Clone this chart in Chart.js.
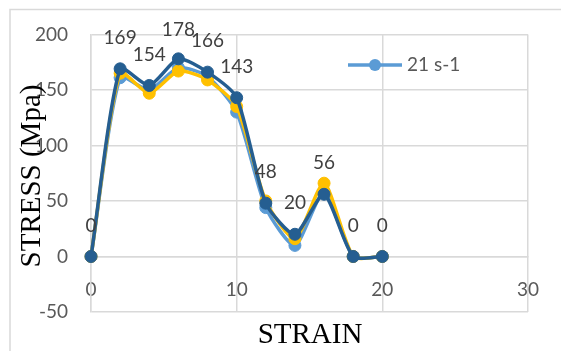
<!DOCTYPE html>
<html>
<head>
<meta charset="utf-8">
<script src="https://cdn.jsdelivr.net/npm/chart.js@4.4.1/dist/chart.umd.min.js"></script>
<style>
  html, body { margin: 0; padding: 0; background: #fff; }
  #wrap { width: 561px; height: 351px; }
</style>
</head>
<body>
<div id="wrap"><canvas id="stressChart" width="561" height="351"></canvas></div>
<script>
// strain steps (x) and stress readings (y) for each run
const strain = [0, 2, 4, 6, 8, 10, 12, 14, 16, 18, 20];
const stressLight = [0, 161, 150, 170, 162, 130, 44, 10, 58, 0, 0];
const stressYellow = [0, 165, 147, 167, 159, 135, 50, 16, 66, 0, 0];
const stressDark = [0, 169, 154, 178, 166, 143, 48, 20, 56, 0, 0];

const xTicks = [0, 10, 20, 30];
const yTicks = [-50, 0, 50, 100, 150, 200];
const legendLabel = "21 s-1";

const LIGHT = "#5B9BD5";
const YELLOW = "#FFC000";
const DARK = "#255E91";
const GRID = "#D9D9D9";
const TICK_FONT = "Lato";

function points(ys) {
    return strain.map((x, i) => ({ x: x, y: ys[i] }));
}

function lineSet(label, ys, color, order) {
    return {
        label: label,
        data: points(ys),
        borderColor: color,
        backgroundColor: color,
        borderWidth: 3.5,
        pointRadius: 6,
        pointBorderWidth: 1,
        pointHoverRadius: 6,
        tension: 0.22,
        clip: false,
        order: order
    };
}

// frame, axis titles, value labels and legend
const extras = {
    id: "extras",
    beforeDraw(chart) {
        const ctx = chart.ctx;
        ctx.save();
        ctx.fillStyle = "#fff";
        ctx.fillRect(0, 0, chart.width, chart.height);
        ctx.strokeStyle = GRID;
        ctx.lineWidth = 1.5;
        ctx.strokeRect(10, 9.5, 700, 500);
        ctx.restore();
    },
    afterDatasetsDraw(chart) {
        const ctx = chart.ctx;
        ctx.save();

        // value labels on the dark series
        const meta = chart.getDatasetMeta(2);
        ctx.font = "19px " + TICK_FONT;
        ctx.fillStyle = "#404040";
        ctx.textAlign = "center";
        ctx.textBaseline = "middle";
        meta.data.forEach((pt, i) => {
            const y = Math.max(pt.y - 31, 30);
            ctx.fillText(String(stressDark[i]), pt.x, y);
        });

        // legend
        const ly = 65;
        ctx.strokeStyle = LIGHT;
        ctx.lineWidth = 3.5;
        ctx.beginPath();
        ctx.moveTo(348, ly);
        ctx.lineTo(402, ly);
        ctx.stroke();
        ctx.fillStyle = LIGHT;
        ctx.beginPath();
        ctx.arc(375, ly, 6, 0, Math.PI * 2);
        ctx.fill();
        ctx.fillStyle = "#595959";
        ctx.textAlign = "left";
        ctx.fillText(legendLabel, 407, ly);

        // axis titles
        ctx.fillStyle = "#000";
        ctx.font = "29px 'Liberation Serif'";
        ctx.textAlign = "center";
        ctx.fillText("STRAIN", 310, 335);
        ctx.translate(32, 176);
        ctx.rotate(-Math.PI / 2);
        ctx.fillText("STRESS (Mpa)", 0, 0);

        ctx.restore();
    }
};

new Chart(document.getElementById("stressChart"), {
    type: "line",
    data: {
        datasets: [
            lineSet(legendLabel, stressLight, LIGHT, 3),
            lineSet("", stressYellow, YELLOW, 2),
            lineSet("", stressDark, DARK, 1)
        ]
    },
    options: {
        responsive: false,
        animation: false,
        events: [],
        layout: { padding: { left: 0, right: 32, top: 28, bottom: 39 } },
        plugins: {
            legend: { display: false },
            tooltip: { enabled: false }
        },
        scales: {
            x: {
                type: "linear",
                position: { y: 0 },
                min: xTicks[0],
                max: xTicks[xTicks.length - 1],
                afterBuildTicks(scale) {
                    scale.ticks = xTicks.map(v => ({ value: v }));
                },
                grid: { color: GRID, lineWidth: 1.5, drawTicks: false },
                border: { color: GRID, width: 1.5 },
                ticks: {
                    padding: 22,
                    color: "#595959",
                    font: { family: TICK_FONT, size: 19 }
                }
            },
            y: {
                type: "linear",
                min: yTicks[0],
                max: yTicks[yTicks.length - 1],
                afterBuildTicks(scale) {
                    scale.ticks = yTicks.map(v => ({ value: v }));
                },
                afterFit(scale) {
                    scale.width = 91;
                },
                grid: { color: GRID, lineWidth: 1.5, drawTicks: false },
                border: { color: GRID, width: 1.5 },
                ticks: {
                    padding: 23,
                    color: "#595959",
                    font: { family: TICK_FONT, size: 19 }
                }
            }
        }
    },
    plugins: [extras]
});
</script>
</body>
</html>
